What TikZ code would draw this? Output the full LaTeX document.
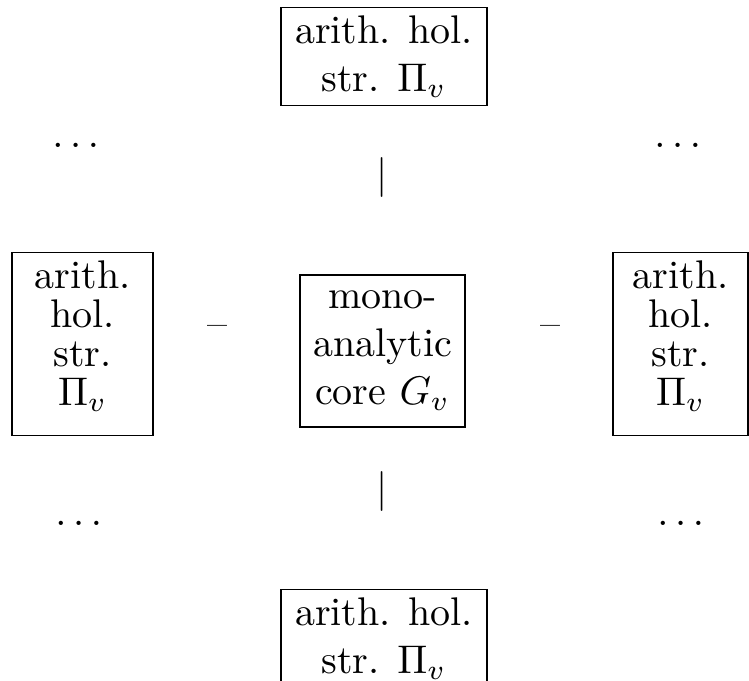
\documentclass[tikz,border=0pt]{standalone}
\usepackage{amsmath, amsfonts}
\usepackage{tikz}

\begin{document}
\begin{tikzpicture}[x=0.25pt,y=-0.25pt,
  main node/.style={draw,align=center,inner sep=2pt},
  wide node/.style={main node,minimum width=51.5pt,minimum height=24.25pt},
  side node/.style={main node,minimum width=35.25pt,minimum height=45.5pt,text depth=5.5pt,font=\fontsize{10}{9.8}\selectfont},
  core node/.style={main node,minimum width=41.25pt,minimum height=38pt},
  sign node/.style={inner sep=0pt,anchor=base}]
        \useasboundingbox (0,0) rectangle (749,681);
        \node[wide node] (top) at (384,56.5) {arith. hol.\\ str. $\Pi_v$};
        \node[wide node] (bottom) at (384,638.5) {arith. hol.\\ str. $\Pi_v$};
        \node[side node] (left) at (82.5,344) {arith.\\ hol.\\ str.\\ $\Pi_v$};
        \node[side node,minimum width=33.75pt] (right) at (680.5,344) {arith.\\ hol.\\ str.\\ $\Pi_v$};
        \node[core node] (core) at (382.5,351) {mono-\\ analytic\\ core $G_v$};
        \node[sign node] (dl) at (217,337) {--};
        \node[sign node] (dr) at (550,337) {--};
        \node (bt) at (382,178) {$|$};
        \node (bb) at (382,492) {$|$};
        \node[sign node] (tl) at (79,148) {$\dots$};
        \node[sign node] (tr) at (681,148) {$\dots$};
        \node[sign node] (bl) at (82,526) {$\dots$};
        \node[sign node] (br) at (684,526) {$\dots$};
      \end{tikzpicture}
\end{document}
